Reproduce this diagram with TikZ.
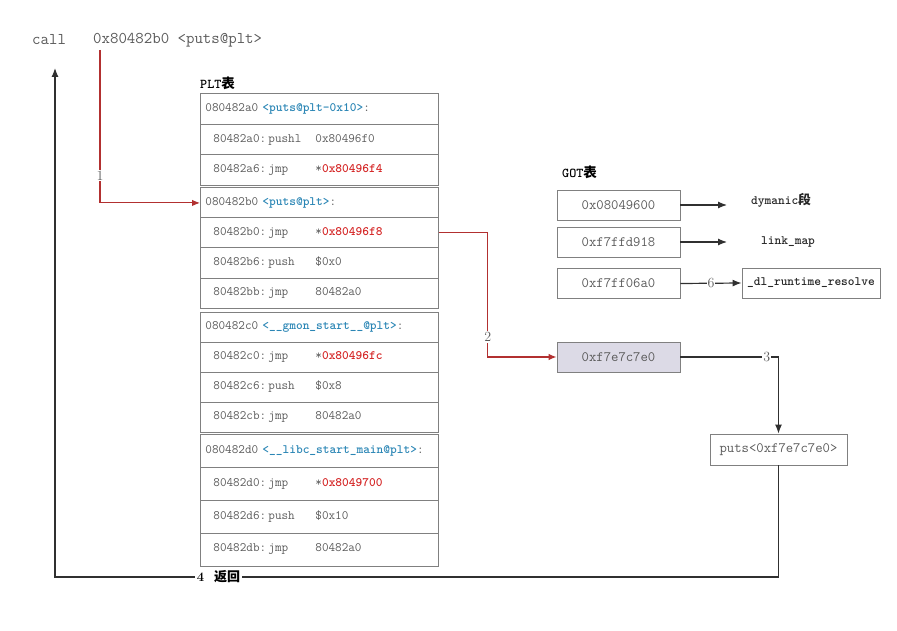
\documentclass[tikz,border=0pt]{standalone}
\usepackage{fontspec}
\newfontfamily\cjk{Noto Sans CJK SC}
\usetikzlibrary{positioning,arrows.meta}

\definecolor{txtgray}{HTML}{5A5A5A}
\definecolor{boxgray}{HTML}{808080}
\definecolor{addrred}{HTML}{D42525}
\definecolor{linered}{HTML}{B23030}
\definecolor{lblblue}{HTML}{2B86B5}
\definecolor{gotfill}{HTML}{DCDAE6}
\definecolor{lineblk}{HTML}{303030}

\newcommand\rowfont{\fontsize{12.8}{14}\selectfont\ttfamily}
\newcommand\pltrow[3]{\makebox[55pt][l]{#1}\makebox[47pt][l]{#2}#3}
\newcommand\redaddr[1]{*{\bfseries\color{addrred}#1}}
\newcommand\pltname[1]{{\bfseries\color{lblblue}<#1>}}

\tikzset{
  pltcell/.style={draw=boxgray, line width=0.9pt, anchor=north west, minimum width=238pt,
    inner xsep=13pt, inner ysep=0pt, text width=212pt, align=left, text=txtgray, font=\rowfont},
  plthead/.style={pltcell, inner xsep=5pt, text width=228pt},
  gotcell/.style={draw=boxgray, line width=0.9pt, minimum width=123pt, minimum height=30pt,
    text=txtgray, font=\fontsize{14.3}{16}\selectfont\ttfamily},
  boldlbl/.style={text=black!85, font=\fontsize{12.8}{14}\selectfont\ttfamily\bfseries},
  redln/.style={draw=linered, line width=1.1pt, -{Latex[length=8pt,width=6.5pt]}},
  blkln/.style={draw=lineblk, line width=1.2pt, -{Latex[length=9pt,width=7pt]}},
  numlbl/.style={fill=white, inner sep=1pt, text=txtgray, font=\fontsize{14}{14}\selectfont},
}

\begin{document}
\begin{tikzpicture}[x=1pt, y=-1pt]
  \useasboundingbox (0,0) rectangle (897,631);

  % call
  \node[anchor=west, inner sep=0pt, text=txtgray, font=\fontsize{16.4}{18}\selectfont\ttfamily] (callkw) at (32,40) {call};
  \node[anchor=west, inner sep=0pt, text=txtgray, font=\fontsize{16.4}{18}\selectfont\ttfamily] (calladdr) at (93,40) {0x80482b0 <puts@plt>};

  % PLT表
  \node[anchor=west, inner sep=0pt, font=\fontsize{13.5}{15}\selectfont\ttfamily\bfseries] (plttitle) at (200,83) {PLT{\cjk 表}};

  \node[plthead, minimum height=30.7pt] (p1h) at (200,93) {080482a0 \pltname{puts@plt-0x10}:};
  \node[pltcell, minimum height=30.7pt] (p1a) at (200,123.7) {\pltrow{80482a0:}{pushl}{0x80496f0}};
  \node[pltcell, minimum height=30.7pt] (p1b) at (200,154.3) {\pltrow{80482a6:}{jmp}{\redaddr{0x80496f4}}};

  \node[plthead, minimum height=30pt] (p2h) at (200,187.5) {080482b0 \pltname{puts@plt}:};
  \node[pltcell, minimum height=30pt] (p2a) at (200,217.5) {\pltrow{80482b0:}{jmp}{\redaddr{0x80496f8}}};
  \node[pltcell, minimum height=30pt] (p2b) at (200,247.5) {\pltrow{80482b6:}{push}{\$0x0}};
  \node[pltcell, minimum height=30pt] (p2c) at (200,277.5) {\pltrow{80482bb:}{jmp}{80482a0}};

  \node[plthead, minimum height=30pt] (p3h) at (200,311.5) {080482c0 \pltname{\_\_gmon\_start\_\_@plt}:};
  \node[pltcell, minimum height=30pt] (p3a) at (200,341.5) {\pltrow{80482c0:}{jmp}{\redaddr{0x80496fc}}};
  \node[pltcell, minimum height=30pt] (p3b) at (200,371.5) {\pltrow{80482c6:}{push}{\$0x8}};
  \node[pltcell, minimum height=30pt] (p3c) at (200,401.5) {\pltrow{80482cb:}{jmp}{80482a0}};

  \node[plthead, minimum height=33pt] (p4h) at (200,433.5) {080482d0 \pltname{\_\_libc\_start\_main@plt}:};
  \node[pltcell, minimum height=33pt] (p4a) at (200,466.5) {\pltrow{80482d0:}{jmp}{\redaddr{0x8049700}}};
  \node[pltcell, minimum height=33pt] (p4b) at (200,499.5) {\pltrow{80482d6:}{push}{\$0x10}};
  \node[pltcell, minimum height=33pt] (p4c) at (200,532.5) {\pltrow{80482db:}{jmp}{80482a0}};

  % GOT表
  \node[anchor=west, inner sep=0pt, font=\fontsize{13.5}{15}\selectfont\ttfamily\bfseries] (gottitle) at (562,172) {GOT{\cjk 表}};

  \node[gotcell] (got0) at (618.5,205) {0x08049600};
  \node[gotcell] (got1) at (618.5,242) {0xf7ffd918};
  \node[gotcell] (got2) at (618.5,283.5) {0xf7ff06a0};
  \node[gotcell, fill=gotfill] (got3) at (618.5,357) {0xf7e7c7e0};

  \node[boldlbl, anchor=west, inner sep=0pt] (dyn) at (751,200) {dymanic{\cjk 段}};
  \node[boldlbl, anchor=west, inner sep=0pt] (lmap) at (761,242) {link\_map};
  \node[boldlbl, draw=boxgray, line width=0.9pt, minimum width=138pt, minimum height=30pt] (rtres) at (811,283) {\_dl\_runtime\_resolve};
  \node[gotcell, minimum width=137pt, minimum height=31pt] (puts) at (778.5,449.5) {puts<0xf7e7c7e0>};

  \coordinate (dyntip) at (727,205);
  \coordinate (lmaptip) at (727,242);
  \coordinate (callsrc) at (100,50);
  \coordinate (retcorner) at (55,577);
  \coordinate (rettip) at (55,68);

  % connectors
  \draw[redln] (callsrc) |- node[numlbl, pos=0.41] {1} (p2h.west);
  \draw[redln] (p2a.east) -- ++(49,0) |- node[numlbl, pos=0.42] {2} (got3.west);
  \draw[blkln] (got3.east) -| node[numlbl, pos=0.44] {3} (puts.north);
  \draw[blkln] (got0.east) -- (dyntip);
  \draw[blkln] (got1.east) -- (lmaptip);
  \draw[blkln] (got2.east) -- node[numlbl] {6} (rtres.west);
  \draw[blkln] (puts.south) |- node[pos=0.887, fill=white, inner sep=2pt, text=black,
      font=\fontsize{13}{14}\selectfont\bfseries] {4\ \ {\cjk 返回}} (retcorner) -- (rettip);
\end{tikzpicture}
\end{document}
